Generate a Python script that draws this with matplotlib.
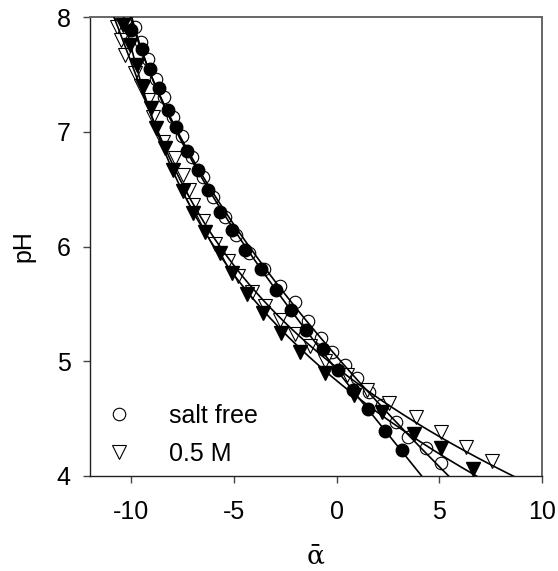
import numpy as np
import matplotlib
matplotlib.use("Agg")
import matplotlib.pyplot as plt
from matplotlib.lines import Line2D

plt.rcParams['font.family'] = ['Liberation Sans', 'DejaVu Sans']
plt.rcParams['axes.unicode_minus'] = False

# salt free, open circles (alpha, pH)
oc_x = [-10.51, -9.81, -9.50, -9.18, -8.80, -8.40, -7.98, -7.53, -7.05, -6.50,
        -6.02, -5.44, -4.88, -4.25, -3.55, -2.77, -2.04, -1.41, -0.74, -0.20,
        0.39, 1.02, 1.60, 2.23, 2.91, 3.50, 4.37, 5.10]
oc_y = [8.00, 7.91, 7.78, 7.63, 7.46, 7.30, 7.13, 6.96, 6.78, 6.61,
        6.43, 6.26, 6.10, 5.94, 5.80, 5.66, 5.52, 5.35, 5.20, 5.08,
        4.97, 4.85, 4.73, 4.62, 4.47, 4.34, 4.24, 4.11]

# filled circles
fc_x = [-10.00, -9.48, -9.08, -8.63, -8.19, -7.82, -7.30, -6.75, -6.26, -5.68,
        -5.11, -4.47, -3.66, -2.93, -2.20, -1.47, -0.68, 0.05, 0.78, 1.55,
        2.38, 3.20]
fc_y = [7.89, 7.72, 7.55, 7.38, 7.19, 7.04, 6.83, 6.67, 6.49, 6.30,
        6.14, 5.97, 5.80, 5.62, 5.45, 5.27, 5.11, 4.92, 4.75, 4.58,
        4.39, 4.23]

# 0.5 M, open triangles
ot_x = [-10.69, -10.50, -10.29, -9.81, -9.50, -9.17, -8.93, -8.45, -7.86, -7.48,
        -7.20, -6.99, -6.50, -5.90, -5.30, -4.81, -4.13, -3.50, -2.77, -2.00,
        -1.30, -0.55, 0.49, 1.50, 2.57, 3.88, 5.10, 6.31, 7.57]
ot_y = [7.91, 7.80, 7.67, 7.51, 7.40, 7.28, 7.13, 6.91, 6.77, 6.62,
        6.49, 6.36, 6.22, 6.02, 5.87, 5.74, 5.60, 5.48, 5.36, 5.24,
        5.13, 5.00, 4.88, 4.75, 4.64, 4.51, 4.38, 4.25, 4.13]

# filled triangles
ft_x = [-10.39, -10.05, -9.72, -9.42, -9.05, -8.78, -8.35, -7.96, -7.48, -6.99,
        -6.41, -5.68, -5.11, -4.38, -3.59, -2.68, -1.80, -0.58, 0.87, 2.23,
        3.79, 5.10, 6.65]
ft_y = [7.93, 7.76, 7.58, 7.39, 7.21, 7.03, 6.86, 6.67, 6.48, 6.29,
        6.13, 5.94, 5.77, 5.59, 5.42, 5.25, 5.08, 4.90, 4.71, 4.56,
        4.37, 4.24, 4.06]

# where each fitted curve meets pH 4
fit_end = {'oc': 5.44, 'fc': 4.14, 'ot': 8.56, 'ft': 6.78}

fig = plt.figure(figsize=(5.58, 5.71), dpi=100)
ax = fig.add_axes([0.1613, 0.1664, 0.8100, 0.8038])

ms = 9
ax.plot(oc_x, oc_y, 'o', ms=ms, mfc='white', mec='black', mew=0.8, zorder=2)
ax.plot(ot_x, ot_y, 'v', ms=ms + 1, mfc='white', mec='black', mew=0.8, zorder=2)
ax.plot(fc_x, fc_y, 'o', ms=ms, mfc='black', mec='black', zorder=3)
ax.plot(ft_x, ft_y, 'v', ms=ms + 1, mfc='black', mec='black', zorder=3)

# fitted curves, pinned at the pH 4 end
ph = np.linspace(3.9, 8.1, 200)
for key, xs, ys in [('oc', oc_x, oc_y), ('fc', fc_x, fc_y), ('ot', ot_x, ot_y), ('ft', ft_x, ft_y)]:
    yy = list(ys) + [4.0]
    xx = list(xs) + [fit_end[key]]
    w = [1.0] * len(xs) + [6.0]
    coef = np.polyfit(yy, xx, 3, w=w)
    ax.plot(np.polyval(coef, ph), ph, color='black', lw=1.2, zorder=4)

ax.set_xlim(-12, 10)
ax.set_ylim(4, 8)
ax.set_xticks([-10, -5, 0, 5, 10])
ax.set_yticks([4, 5, 6, 7, 8])
ax.tick_params(direction='out', length=5, width=1, labelsize=18, color='#444444')
ax.tick_params(axis='x', pad=12)
ax.tick_params(axis='y', pad=9)
for s in ['left', 'bottom']:
    ax.spines[s].set_color('#222222')
    ax.spines[s].set_linewidth(1.0)
for s in ['top', 'right']:
    ax.spines[s].set_color('#666666')
    ax.spines[s].set_linewidth(1.4)

ax.set_ylabel('pH', fontsize=18, labelpad=15)
ax.set_xlabel('ᾱ', fontsize=19, family=['DejaVu Serif'], labelpad=14)

handles = [
    Line2D([], [], ls='none', marker='o', ms=ms, mfc='white', mec='black', mew=0.8),
    Line2D([], [], ls='none', marker='v', ms=ms + 1, mfc='white', mec='black', mew=0.8),
]
ax.legend(handles, ['salt free', '0.5 M'], loc='lower left', bbox_to_anchor=(0.037, 0.022),
          frameon=False, fontsize=18, handlelength=1.0, handletextpad=1.5,
          labelspacing=0.55, borderpad=0, borderaxespad=0)

fig.savefig('out.png', dpi=100)
